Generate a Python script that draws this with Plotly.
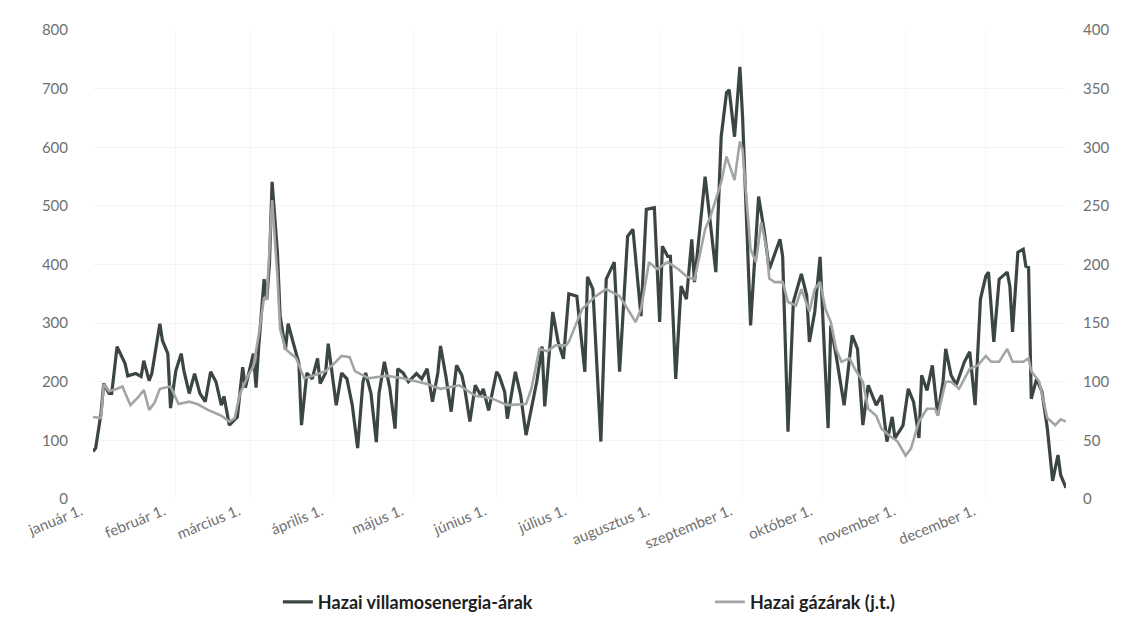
import pandas as pd
import plotly.graph_objects as go

# napok az év elejétől (2022) és a leolvasott értékek
villany_nap = [0, 1, 3, 4, 6, 7, 9, 12, 13, 16, 18, 19, 21, 22, 25, 26, 28, 29, 31, 33, 34, 36,
               38, 40, 42, 44, 46, 48, 49, 51, 54, 56, 57, 60, 61, 62, 64, 65, 66, 67, 69, 70,
               72, 73, 75, 77, 78, 80, 82, 84, 85, 87, 88, 90, 91, 93, 95, 97, 99, 101, 102,
               104, 106, 107, 109, 111, 113, 114, 116, 118, 121, 123, 125, 127, 129, 130, 132,
               134, 136, 138, 139, 141, 143, 145, 146, 148, 151, 152, 154, 155, 158, 160, 162,
               166, 168, 169, 172, 174, 176, 178, 181, 184, 185, 187, 190, 192, 195, 197, 200,
               202, 205, 207, 210, 212, 213, 215, 216, 218, 220, 222, 224, 225, 229, 233, 235,
               237, 238, 240, 242, 243, 245, 246, 249, 251, 253, 257, 258, 260, 262, 265, 267,
               268, 270, 272, 273, 275, 276, 278, 281, 284, 286, 288, 290, 293, 295, 297, 299,
               300, 303, 305, 307, 309, 310, 312, 314, 316, 318, 319, 321, 323, 326, 328, 330,
               332, 334, 335, 337, 339, 342, 343, 344, 346, 348, 349, 350, 351, 353, 355, 357,
               359, 361, 362, 364]
villany_ar = [81, 87, 146, 197, 180, 180, 260, 231, 210, 214, 209, 236, 202, 214, 299, 270, 248,
              155, 219, 248, 219, 180, 214, 180, 166, 217, 200, 160, 175, 126, 140, 225, 190,
              248, 190, 260, 375, 340, 400, 541, 420, 312, 255, 299, 265, 232, 126, 215, 205,
              240, 197, 215, 265, 190, 160, 215, 205, 160, 87, 200, 215, 180, 97, 180, 234, 190,
              120, 222, 215, 200, 214, 205, 222, 166, 215, 261, 210, 149, 228, 211, 190, 132,
              194, 177, 188, 151, 217, 210, 183, 137, 217, 177, 109, 200, 260, 158, 319, 268,
              239, 350, 346, 217, 379, 358, 98, 375, 404, 217, 448, 460, 312, 494, 497, 302,
              431, 414, 414, 205, 363, 341, 443, 370, 550, 387, 618, 693, 698, 618, 737, 652,
              426, 296, 516, 460, 392, 443, 414, 115, 336, 384, 347, 268, 319, 413, 313, 121,
              296, 245, 160, 279, 256, 126, 194, 160, 177, 98, 140, 104, 125, 188, 165, 104,
              211, 185, 228, 143, 200, 256, 211, 195, 234, 251, 160, 341, 380, 387, 268, 375,
              387, 363, 285, 421, 426, 397, 395, 171, 205, 183, 121, 31, 75, 41, 19]

gaz_nap = [0, 3, 4, 6, 9, 11, 14, 17, 19, 21, 23, 25, 29, 32, 36, 39, 43, 48, 51, 53, 55, 58,
           60, 62, 64, 65, 67, 69, 70, 72, 76, 79, 82, 87, 90, 93, 96, 98, 103, 110, 116, 122,
           125, 130, 137, 143, 149, 155, 162, 164, 167, 170, 173, 177, 178, 183, 188, 192, 197,
           200, 203, 205, 208, 211, 215, 219, 222, 225, 229, 231, 235, 237, 240, 242, 243, 245,
           246, 248, 250, 252, 253, 255, 258, 260, 263, 265, 268, 270, 272, 274, 276, 278, 280,
           283, 285, 288, 290, 293, 295, 298, 301, 304, 306, 309, 312, 315, 316, 319, 321, 324,
           328, 331, 334, 336, 339, 342, 344, 348, 350, 351, 354, 357, 360, 362, 364]
gaz_ar = [70, 69, 98, 92, 94, 96, 80, 87, 93, 76, 82, 94, 96, 81, 83, 81, 76, 71, 66, 69, 90,
          105, 113, 140, 172, 170, 255, 190, 145, 128, 120, 103, 105, 109, 115, 122, 121, 109,
          103, 105, 103, 100, 98, 94, 97, 88, 86, 80, 81, 94, 128, 126, 131, 131, 134, 162, 173,
          179, 173, 162, 151, 162, 202, 196, 202, 196, 190, 187, 230, 241, 270, 292, 272, 305,
          298, 241, 213, 202, 236, 213, 188, 185, 185, 168, 165, 179, 160, 179, 185, 162, 151,
          128, 117, 120, 111, 100, 77, 71, 60, 54, 49, 37, 43, 66, 77, 77, 71, 100, 100, 94,
          111, 114, 122, 117, 117, 128, 117, 117, 120, 109, 100, 69, 63, 68, 66]

honap_tick = ["2022-01-01", "2022-02-01", "2022-03-01", "2022-04-01", "2022-05-01", "2022-06-01",
              "2022-07-01", "2022-08-01", "2022-09-01", "2022-10-01", "2022-11-01", "2022-12-01"]
honap_felirat = ["január 1.", "február 1.", "március 1.", "április 1.", "május 1.", "június 1.",
                 "július 1.", "augusztus 1.", "szeptember 1.", "október 1.", "november 1.",
                 "december 1."]

kezdet = pd.Timestamp("2022-01-01")
villany_datum = kezdet + pd.to_timedelta(villany_nap, unit="D")
gaz_datum = kezdet + pd.to_timedelta(gaz_nap, unit="D")

fig = go.Figure()
fig.add_trace(go.Scatter(x=villany_datum, y=villany_ar, mode="lines",
                         name="Hazai villamosenergia-árak", legend="legend",
                         line=dict(color="#3b4642", width=3.2)))
fig.add_trace(go.Scatter(x=gaz_datum, y=gaz_ar, mode="lines", yaxis="y2",
                         name="Hazai gázárak (j.t.)", legend="legend2",
                         line=dict(color="#a3a5a4", width=2.6)))

tick_font = dict(family="Lato, Open Sans, sans-serif", size=15, color="#707070")
legend_font = dict(family="Lato, Open Sans, sans-serif", size=18, color="#1e1e1e", weight="bold")

fig.update_layout(
    width=1123, height=642,
    plot_bgcolor="white", paper_bgcolor="white",
    margin=dict(l=85, r=65, t=20, b=151),
    xaxis=dict(range=["2022-01-01", "2022-12-31"], tickvals=honap_tick, ticktext=honap_felirat,
               tickangle=-22, ticklabelshift=-12,
               tickfont=dict(family="Lato, Open Sans, sans-serif", size=15, color="#707070"),
               showgrid=True, gridcolor="#f6f6f6", zeroline=False, showline=False),
    yaxis=dict(range=[0, 800], dtick=100, tickfont=tick_font, showgrid=True,
               gridcolor="#f4f4f4", zeroline=False, ticks="", ticklabelstandoff=24),
    yaxis2=dict(range=[0, 400], dtick=50, overlaying="y", side="right", tickfont=tick_font,
                showgrid=False, zeroline=False, ticklabelstandoff=16),
    legend=dict(x=0.19, xanchor="left", y=-0.22, yanchor="middle", font=legend_font),
    legend2=dict(x=0.634, xanchor="left", y=-0.22, yanchor="middle", font=legend_font),
    showlegend=True,
)

fig.write_html("out.html")
